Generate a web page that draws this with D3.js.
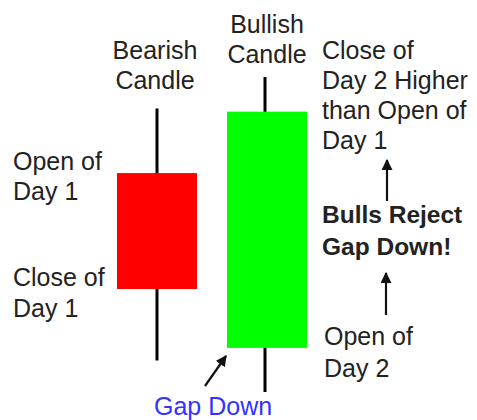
<!DOCTYPE html>
<html>
<head>
<meta charset="utf-8">
<script src="https://cdn.jsdelivr.net/npm/d3@7"></script>
<style>
  html, body { margin: 0; padding: 0; background: #fff; }
  svg { display: block; }
  text { font-family: "Liberation Sans", Arial, sans-serif; font-size: 25px; fill: #222; }
</style>
</head>
<body>
<svg id="chart" width="477" height="420"></svg>
<script>
// ---- data ----
const days = ["Day 1", "Day 2"];
const opens  = [69.5, 14];
const closes = [32.7, 89];
const highs  = [90, 100];
const lows   = [10, 0];
const candleLabels = [["Bearish", "Candle"], ["Bullish", "Candle"]];

const svg = d3.select("#chart");
const x = d3.scaleBand().domain(days).range([117, 307]).paddingInner(30 / 110).paddingOuter(0);
const y = d3.scaleLinear().domain([0, 100]).range([392, 77]);

const candles = days.map((d, i) => ({
  day: d, open: opens[i], close: closes[i], high: highs[i], low: lows[i], label: candleLabels[i]
}));

const cx = d => x(d.day) + x.bandwidth() / 2;

// wicks
svg.selectAll("line.wick").data(candles).join("line")
  .attr("class", "wick")
  .attr("x1", d => cx(d) - (d.close > d.open ? 2 : 0))
  .attr("x2", d => cx(d) - (d.close > d.open ? 2 : 0))
  .attr("y1", d => y(d.high)).attr("y2", d => y(d.low))
  .attr("stroke", "#000").attr("stroke-width", 3);

// bodies
svg.selectAll("rect.body").data(candles).join("rect")
  .attr("class", "body")
  .attr("x", d => x(d.day)).attr("width", x.bandwidth())
  .attr("y", d => y(Math.max(d.open, d.close)))
  .attr("height", d => Math.abs(y(d.open) - y(d.close)))
  .attr("fill", d => d.close > d.open ? "#00ff00" : "#ff0000");

// candle titles
const titleBase = [59, 33];
candles.forEach((d, i) => {
  const t = svg.append("text").attr("text-anchor", "middle").attr("x", cx(d) - (i === 0 ? 2 : 0));
  d.label.forEach((s, j) => t.append("tspan").attr("x", cx(d) - (i === 0 ? 2 : 0)).attr("y", titleBase[i] + j * 30).text(s));
});

// helper for multiline text
function label(lines, xPos, yBase, opts = {}) {
  const t = svg.append("text").attr("x", xPos);
  if (opts.bold) t.style("font-weight", "bold");
  if (opts.fill) t.style("fill", opts.fill);
  if (opts.size) t.style("font-size", opts.size + "px");
  lines.forEach((s, j) => t.append("tspan").attr("x", xPos).attr("y", yBase + j * (opts.lh || 30)).text(s));
  return t;
}

label(["Open of", "Day 1"], 13, 170);
label(["Close of", "Day 1"], 13, 286, {lh: 31});
label(["Close of", "Day 2 Higher", "than Open of", "Day 1"], 322, 59, {lh: 30});
label(["Bulls Reject", "Gap Down!"], 322, 223, {bold: true, size: 24.5, lh: 32});
label(["Open of", "Day 2"], 324, 345, {lh: 32});
label(["Gap Down"], 154, 415, {fill: "#3333ff"});

// arrows
const defs = svg.append("defs");
defs.append("marker").attr("id", "ah").attr("viewBox", "0 0 10 10")
  .attr("refX", 9).attr("refY", 5).attr("markerWidth", 5).attr("markerHeight", 5)
  .attr("markerUnits", "strokeWidth").attr("orient", "auto")
  .append("path").attr("d", "M0,0 L10,5 L0,10 Z").attr("fill", "#111");

const arrows = [
  [387, 201, 387, 160],
  [386, 315, 386, 273],
  [205, 386, 226, 356]
];
svg.selectAll("line.arrow").data(arrows).join("line")
  .attr("class", "arrow")
  .attr("x1", d => d[0]).attr("y1", d => d[1]).attr("x2", d => d[2]).attr("y2", d => d[3])
  .attr("stroke", "#111").attr("stroke-width", 2.2).attr("marker-end", "url(#ah)");
</script>
</body>
</html>
